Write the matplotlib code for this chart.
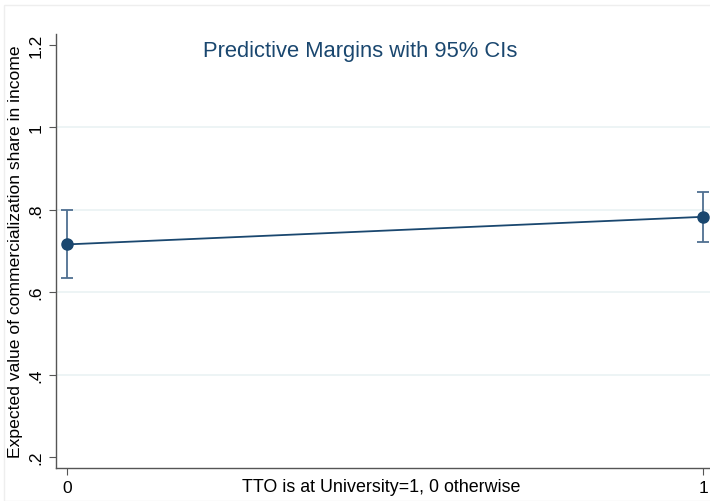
import matplotlib
matplotlib.use('Agg')
import matplotlib.pyplot as plt
from matplotlib.patches import Rectangle

plt.rcParams['font.family'] = ['Liberation Sans', 'DejaVu Sans']

# data
tto = [0, 1]
margin = [0.716, 0.783]
ci_low = [0.635, 0.722]
ci_high = [0.799, 0.844]

navy = '#1a476f'

fig = plt.figure(figsize=(7.10, 5.02), dpi=100)
ax = fig.add_axes([56/710, 33/502, 1 - 56/710, 434/502])

yerr = [[m - lo for m, lo in zip(margin, ci_low)],
        [hi - m for m, hi in zip(margin, ci_high)]]
ax.errorbar(tto, margin, yerr=yerr, color=navy, lw=1.3, marker='o', ms=8,
            ecolor='#4f6f91', elinewidth=1.3, capsize=4.5, capthick=1.3, zorder=3)

ax.set_xlim(-0.0173, 1.011)
ax.set_ylim(0.173, 1.227)
ax.set_xticks([0, 1])
ax.set_xticklabels(['0', '1'])
ax.set_yticks([0.2, 0.4, 0.6, 0.8, 1.0, 1.2])
ax.set_yticklabels(['.2', '.4', '.6', '.8', '1', '1.2'], rotation=90, va='center')
for y in [0.4, 0.6, 0.8, 1.0]:
    ax.axhline(y, color='#eaf2f3', lw=1.2, zorder=0)

for s in ['top', 'right']:
    ax.spines[s].set_visible(False)
for s in ['left', 'bottom']:
    ax.spines[s].set_color('#555555')
    ax.spines[s].set_linewidth(1.0)
ax.tick_params(direction='out', length=5, color='#555555', labelsize=12.5, pad=4)

ax.set_ylabel('Expected value of commercialization share in income', fontsize=12.6, labelpad=4)
fig.text(381/710, 1 - 488/502, 'TTO is at University=1, 0 otherwise', fontsize=12.9,
         ha='center', va='center')
fig.text(360/710, 1 - 51/502, 'Predictive Margins with 95% CIs', fontsize=15.8,
         color=navy, ha='center', va='center')

fig.patches.append(Rectangle((4/710, 0), 1, 1 - 6/502, transform=fig.transFigure,
                             fill=False, edgecolor='#eeeeee', lw=1))

fig.savefig('out.png', dpi=100)
